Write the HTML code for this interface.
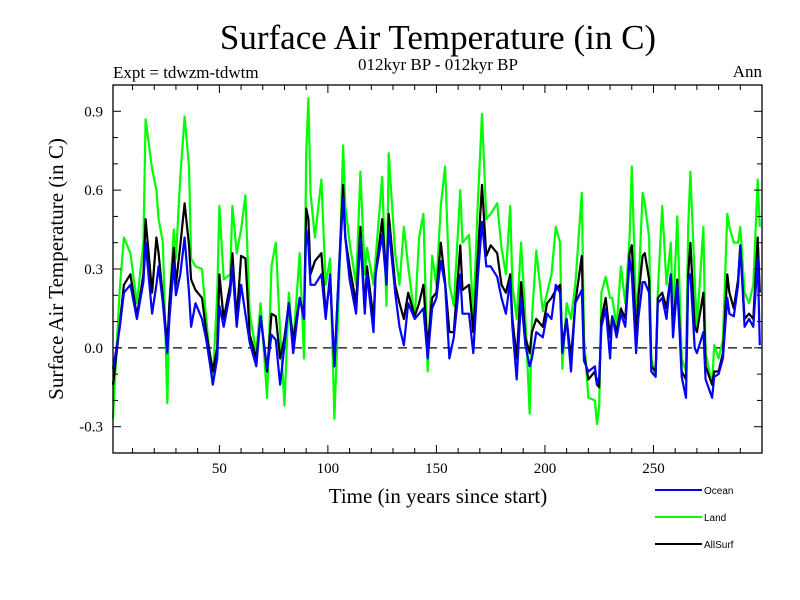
<!DOCTYPE html>
<html><head><meta charset="utf-8"><style>
body{margin:0;background:#fff;}
svg{display:block;font-family:"Liberation Serif",serif;}
</style></head><body>
<svg id="chart" width="800" height="600" viewBox="0 0 800 600">
<rect width="800" height="600" fill="#fff"/>
<text x="438" y="49" font-size="35" text-anchor="middle">Surface Air Temperature (in C)</text>
<text x="113" y="78" font-size="17">Expt = tdwzm-tdwtm</text>
<text x="438" y="70" font-size="17" text-anchor="middle">012kyr BP - 012kyr BP</text>
<text x="762" y="77" font-size="17" text-anchor="end">Ann</text>
<text x="438" y="503" font-size="21" text-anchor="middle">Time (in years since start)</text>
<text transform="translate(63,269) rotate(-90)" font-size="21" text-anchor="middle">Surface Air Temperature (in C)</text>
<g id="marks"></g>
<g id="axes"></g>
<g font-family="Liberation Sans, sans-serif" font-size="10">
<line x1="655" y1="490" x2="702" y2="490" stroke="#0000ff" stroke-width="2"/>
<text x="704" y="494">Ocean</text>
<line x1="655" y1="517" x2="702" y2="517" stroke="#00ff00" stroke-width="2"/>
<text x="704" y="521">Land</text>
<line x1="655" y1="544" x2="702" y2="544" stroke="#000" stroke-width="2"/>
<text x="704" y="548">AllSurf</text>
</g>
</svg>
<script>
const years=[1,4,6,9,12,15,16,19,21,22,24,26,27,29,30,32,34,36,37,39,42,44,46,47,49,50,52,55,56,58,60,62,64,67,69,72,74,76,78,
80,82,84,87,89,90,91,92,94,97,99,101,103,105,107,108,110,113,115,117,118,121,122,125,127,128,131,133,135,137,140,142,144,146,148,150,
152,154,156,158,161,162,165,167,169,171,173,175,178,180,182,184,185,187,189,191,193,194,196,199,201,203,205,207,208,210,212,214,217,218,220,223,224,
225,226,228,230,231,233,235,237,239,240,242,243,245,246,248,249,251,252,254,256,258,259,261,263,265,266,267,269,270,273,274,277,278,280,282,284,285,287,289,290,292,294,296,298,299];
const ocean=[-0.08,0.07,0.21,0.24,0.11,0.25,0.40,0.13,0.24,0.31,0.17,-0.02,0.11,0.32,0.20,0.28,0.42,0.21,0.08,0.17,0.11,0.03,-0.08,-0.14,-0.04,0.16,0.08,0.21,0.31,0.08,0.24,0.13,0.02,-0.07,0.12,-0.08,0.05,0.03,-0.14,
0.01,0.17,-0.02,0.19,0.11,0.45,0.39,0.24,0.24,0.28,0.11,0.28,-0.07,0.27,0.57,0.42,0.26,0.13,0.42,0.13,0.28,0.06,0.28,0.43,0.24,0.46,0.21,0.08,0.01,0.17,0.11,0.13,0.15,-0.04,0.15,0.19,
0.33,0.24,-0.04,0.04,0.28,0.13,0.13,-0.02,0.26,0.48,0.31,0.31,0.27,0.19,0.13,0.26,0.08,-0.12,0.19,0.01,-0.07,-0.04,0.06,0.04,0.13,0.11,0.24,0.21,-0.02,0.11,-0.09,0.17,0.22,-0.05,-0.09,-0.07,-0.14,
-0.11,0.08,0.15,-0.04,0.12,0.04,0.13,0.08,0.34,0.28,-0.02,0.11,0.25,0.25,0.21,-0.09,-0.11,0.17,0.19,0.11,0.28,0.04,0.24,-0.11,-0.19,0.26,0.28,0.0,-0.02,0.06,-0.12,-0.19,-0.11,-0.10,-0.04,0.19,0.13,0.12,0.24,0.39,0.08,0.11,0.08,0.34,0.01];
const land=[-0.27,0.21,0.42,0.36,0.17,0.40,0.87,0.68,0.60,0.49,0.40,-0.21,0.17,0.45,0.34,0.65,0.88,0.69,0.34,0.31,0.30,0.11,-0.08,-0.12,0.20,0.54,0.26,0.28,0.54,0.36,0.45,0.58,0.13,-0.02,0.17,-0.19,0.31,0.40,0.06,
-0.22,0.21,0.01,0.36,-0.04,0.74,0.95,0.59,0.42,0.64,0.24,0.34,-0.27,0.19,0.77,0.54,0.40,0.24,0.67,0.28,0.38,0.24,0.34,0.65,0.16,0.74,0.36,0.24,0.46,0.31,0.11,0.42,0.51,-0.09,0.35,0.24,
0.54,0.69,0.24,0.16,0.60,0.40,0.43,0.11,0.54,0.89,0.49,0.51,0.55,0.38,0.28,0.54,0.24,0.11,0.40,0.11,-0.25,0.11,0.37,0.14,0.21,0.28,0.46,0.40,-0.08,0.17,0.11,0.24,0.59,0.04,-0.19,-0.20,-0.29,
-0.22,0.21,0.27,0.19,0.19,0.08,0.31,0.17,0.42,0.69,0.14,0.21,0.59,0.55,0.42,-0.04,-0.11,0.21,0.54,0.24,0.40,0.11,0.50,-0.04,-0.09,0.46,0.67,0.26,0.08,0.46,-0.02,-0.14,0.01,-0.04,0.03,0.51,0.46,0.40,0.40,0.46,0.21,0.17,0.24,0.64,0.46];
const allSurf=[-0.14,0.08,0.24,0.28,0.12,0.28,0.49,0.21,0.42,0.36,0.19,0.01,0.17,0.38,0.24,0.39,0.55,0.39,0.26,0.22,0.19,0.06,-0.04,-0.09,0.0,0.28,0.11,0.24,0.36,0.11,0.35,0.34,0.05,-0.04,0.12,-0.09,0.13,0.12,-0.04,
0.04,0.17,0.03,0.19,0.12,0.53,0.49,0.28,0.33,0.36,0.13,0.26,-0.07,0.28,0.62,0.42,0.31,0.17,0.46,0.15,0.31,0.11,0.28,0.49,0.26,0.51,0.24,0.17,0.11,0.21,0.12,0.17,0.24,0.0,0.19,0.21,
0.40,0.25,0.06,0.06,0.39,0.22,0.24,0.06,0.34,0.62,0.35,0.39,0.36,0.24,0.21,0.28,0.11,-0.04,0.25,0.04,-0.02,0.06,0.11,0.08,0.17,0.19,0.22,0.24,0.01,0.11,-0.04,0.17,0.35,-0.02,-0.12,-0.09,-0.14,
-0.15,0.11,0.19,0.04,0.12,0.06,0.15,0.11,0.36,0.39,0.04,0.19,0.35,0.36,0.26,-0.07,-0.09,0.19,0.21,0.15,0.28,0.08,0.26,-0.09,-0.12,0.28,0.40,0.08,0.06,0.21,-0.07,-0.14,-0.09,-0.09,-0.02,0.28,0.21,0.15,0.26,0.39,0.11,0.13,0.11,0.42,0.21];
const xTickLabels=[50,100,150,200,250];
const yTickLabels=[-0.3,0.0,0.3,0.6,0.9];

const NS='http://www.w3.org/2000/svg';
const L=113,R=762,T=85,B=453,X0=1,X1=300,Y0=-0.4,Y1=1.0;
function xs(v){return L+(v-X0)/(X1-X0)*(R-L);}
function ys(v){return B-(v-Y0)/(Y1-Y0)*(B-T);}
function mk(tag,attrs,parent){const e=document.createElementNS(NS,tag);for(const k in attrs)e.setAttribute(k,attrs[k]);parent.appendChild(e);return e;}
const marks=document.getElementById('marks'),axes=document.getElementById('axes');

const zl=mk('line',{x1:L,x2:R,y1:ys(0),y2:ys(0),stroke:'#000','stroke-width':1.3,'stroke-dasharray':'9,6'},marks);



function series(vals,color,name){
  const pts=vals.map((v,i)=>xs(years[i]).toFixed(1)+','+ys(v).toFixed(1)).join(' ');
  const p=mk('polyline',{points:pts,fill:'none',stroke:color,'stroke-width':2.2,'stroke-linejoin':'round'},marks);
  
  
}
series(land,'#00ff00','land-series');
series(allSurf,'#000000','allsurf-series');
series(ocean,'#0000ff','ocean-series');

const frame=mk('rect',{x:L,y:T,width:R-L,height:B-T,fill:'none',stroke:'#000','stroke-width':1.3},axes);



for(let v=10;v<X1;v+=10){
  const x=xs(v),len=(v%50===0)?8:5;
  mk('line',{x1:x,x2:x,y1:B,y2:B-len,stroke:'#000'},axes);
  mk('line',{x1:x,x2:x,y1:T,y2:T+len,stroke:'#000'},axes);
}
xTickLabels.forEach(v=>{
  const t=mk('text',{x:xs(v),y:B+20,'font-size':15,'text-anchor':'middle'},axes);
  t.textContent=v;
  
  
});
for(let k=-3;k<=9;k++){
  const v=k/10,y=ys(v),len=(k%3===0)?8:5;
  mk('line',{x1:L,x2:L+len,y1:y,y2:y,stroke:'#000'},axes);
  mk('line',{x1:R,x2:R-len,y1:y,y2:y,stroke:'#000'},axes);
}
yTickLabels.forEach(v=>{
  const t=mk('text',{x:L-10,y:ys(v)+5,'font-size':15,'text-anchor':'end'},axes);
  t.textContent=v.toFixed(1);
  
  
});
</script>
</body></html>
